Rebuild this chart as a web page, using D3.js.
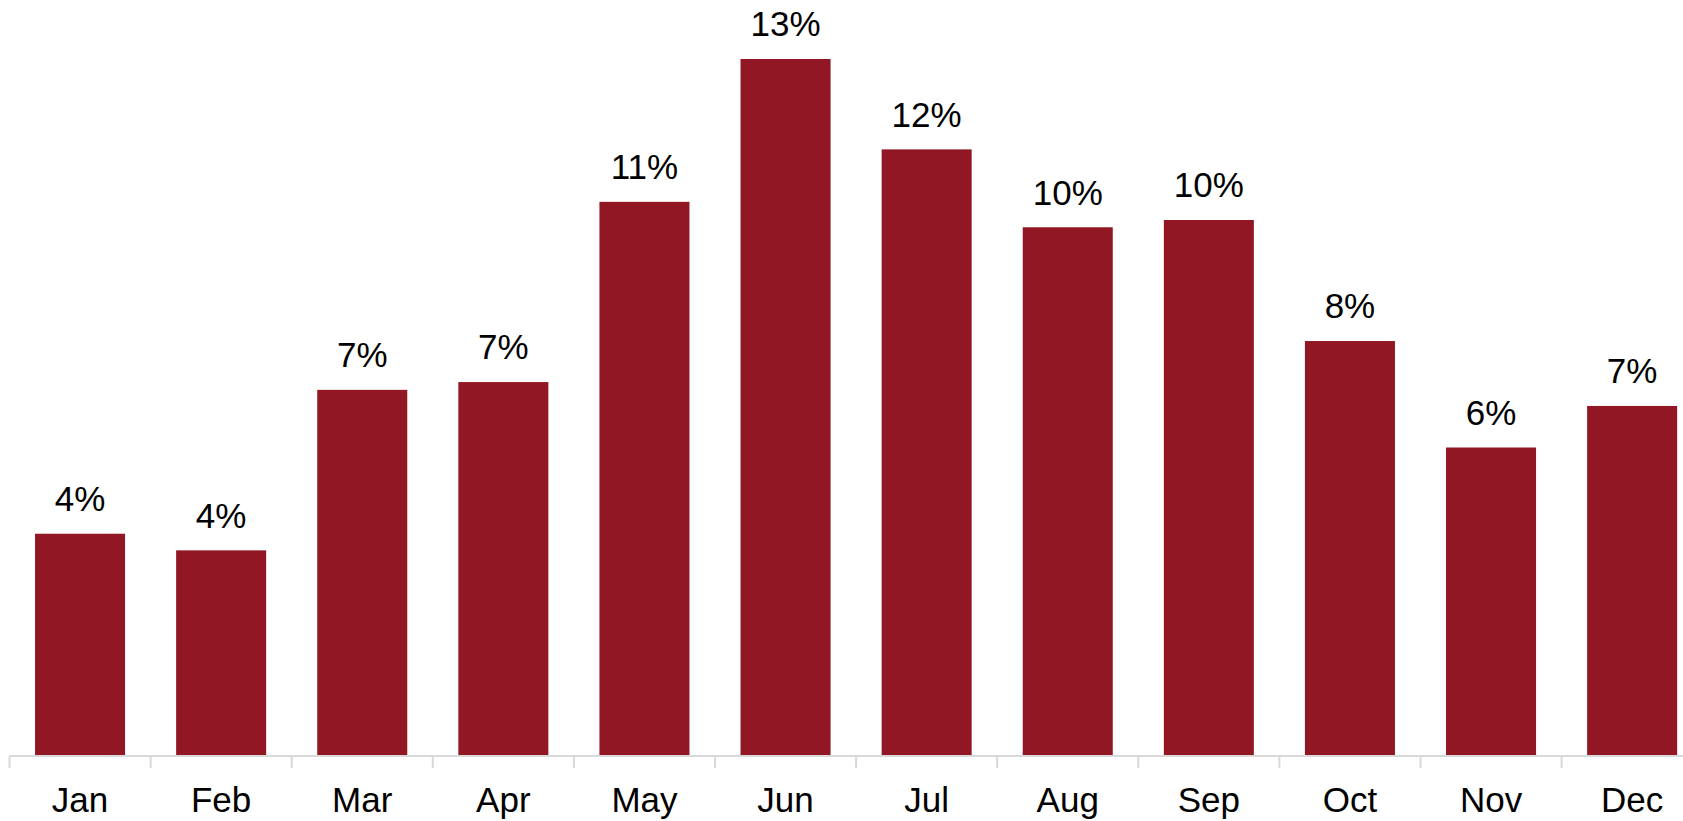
<!DOCTYPE html>
<html>
<head>
<meta charset="utf-8">
<script src="https://cdn.jsdelivr.net/npm/d3@7"></script>
<style>
html,body{margin:0;padding:0;background:#fff;}
svg{display:block;}
text{font-family:"Liberation Sans",Arial,sans-serif;fill:#000;}
</style>
</head>
<body>
<svg id="chart" width="1683" height="821"></svg>
<script>
const months = ["Jan","Feb","Mar","Apr","May","Jun","Jul","Aug","Sep","Oct","Nov","Dec"];
const shares = [4.26,3.94,7.03,7.18,10.65,13.4,11.66,10.16,10.3,7.97,5.92,6.72];
const labels = ["4%","4%","7%","7%","11%","13%","12%","10%","10%","8%","6%","7%"];

const svg = d3.select("#chart");
const baseY = 755;
const x = d3.scaleBand().domain(months).range([9.5, 9.5 + 12*141.1]).paddingInner(0.362).paddingOuter(0.181);
const y = d3.scaleLinear().domain([0, 13.4]).range([baseY, 59]);

const data = months.map((m,i)=>({m, v:shares[i], l:labels[i]}));

svg.selectAll("rect.bar").data(data).enter().append("rect")
  .attr("class","bar")
  .attr("x", d=>x(d.m))
  .attr("width", x.bandwidth())
  .attr("y", d=>y(d.v))
  .attr("height", d=>baseY - y(d.v))
  .attr("fill", "#901723");

svg.selectAll("text.val").data(data).enter().append("text")
  .attr("class","val")
  .attr("x", d=>x(d.m)+x.bandwidth()/2)
  .attr("y", d=>y(d.v) - 22.6)
  .attr("text-anchor","middle")
  .style("font-size","35px")
  .text(d=>d.l);

// axis
const step = x.step();
const x0 = x.range()[0];
svg.append("line").attr("x1", x0).attr("x2", 1683).attr("y1", baseY+1).attr("y2", baseY+1)
  .attr("stroke","#d9d9d9").attr("stroke-width",2);
const ticks = d3.range(0, months.length+1).map(i=>x0 + i*step);
svg.selectAll("line.tick").data(ticks).enter().append("line")
  .attr("class","tick")
  .attr("x1", d=>d).attr("x2", d=>d)
  .attr("y1", baseY+1).attr("y2", baseY+13)
  .attr("stroke","#d9d9d9").attr("stroke-width",2);

svg.selectAll("text.cat").data(months).enter().append("text")
  .attr("class","cat")
  .attr("x", d=>x(d)+x.bandwidth()/2)
  .attr("y", 811.7)
  .attr("text-anchor","middle")
  .style("font-size","35px")
  .text(d=>d);
</script>
</body>
</html>
